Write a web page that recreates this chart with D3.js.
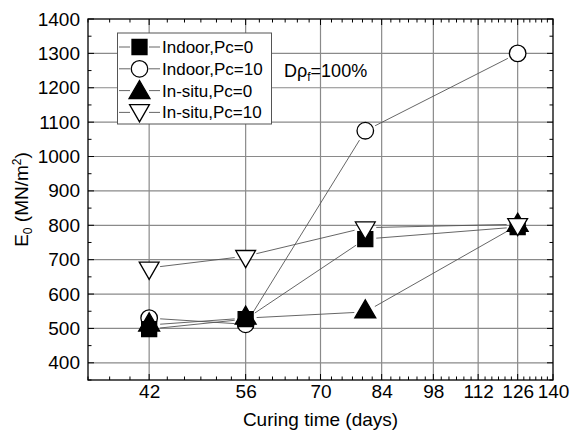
<!DOCTYPE html>
<html>
<head>
<meta charset="utf-8">
<script src="https://cdnjs.cloudflare.com/ajax/libs/d3/7.8.5/d3.min.js"></script>
<style>
  body { margin: 0; background: #fff; }
  text { font-family: "Liberation Sans", Arial, sans-serif; }
</style>
</head>
<body>
<script>
// Curing time vs E0 chart

const w = 571;
const h = 434;

// data
const days = [42, 56, 80, 126];
const indoor0 = [498, 527, 760, 795];
const indoor10 = [530, 512, 1075, 1300];
const insitu0 = [510, 530, 548, 800];
const insitu10 = [676, 710, 793, 803];

const seriesNames = ["Indoor,Pc=0", "Indoor,Pc=10", "In-situ,Pc=0", "In-situ,Pc=10"];
const xTicks = [42, 56, 70, 84, 98, 112, 126, 140];
const yTicks = [400, 500, 600, 700, 800, 900, 1000, 1100, 1200, 1300, 1400];

const plotL = 88, plotR = 553, plotT = 19, plotB = 380;

const x = d3.scaleLog().domain([35, 140]).range([plotL, plotR]);
const y = d3.scaleLinear().domain([350, 1400]).range([plotB, plotT]);

const svg = d3.select("body").append("svg")
    .attr("width", w)
    .attr("height", h);

// marker shapes
const shapes = [
    { type: d3.symbolSquare, size: 225, fill: "#000", rot: 0 },
    { type: d3.symbolCircle, size: 215, fill: "#fff", rot: 0 },
    { type: d3.symbolTriangle, size: 190, fill: "#000", rot: 0 },
    { type: d3.symbolTriangle, size: 170, fill: "#fff", rot: 180 }
];
const allSeries = [indoor0, indoor10, insitu0, insitu10];

// grid lines
svg.append("g").selectAll("line")
    .data(xTicks.slice(0, -1))
    .enter().append("line")
    .attr("x1", d => x(d)).attr("x2", d => x(d))
    .attr("y1", plotT).attr("y2", plotB)
    .attr("stroke", "#8a8a8a").attr("stroke-width", 1.2);

svg.append("g").selectAll("line")
    .data(yTicks.slice(0, -1))
    .enter().append("line")
    .attr("x1", plotL).attr("x2", plotR)
    .attr("y1", d => y(d)).attr("y2", d => y(d))
    .attr("stroke", "#8a8a8a").attr("stroke-width", 1.2);

// minor ticks
const xMinor = d3.range(35, 140.01, 7 / 3);
const yMinor = d3.range(350, 1400.01, 50);

const ticks = svg.append("g").attr("stroke", "#000").attr("stroke-width", 1);
xMinor.forEach(v => {
    const len = xTicks.some(t => Math.abs(t - v) < 0.01) ? 6 : 3.5;
    ticks.append("line").attr("x1", x(v)).attr("x2", x(v)).attr("y1", plotB).attr("y2", plotB - len);
    ticks.append("line").attr("x1", x(v)).attr("x2", x(v)).attr("y1", plotT).attr("y2", plotT + len);
});
yMinor.forEach(v => {
    const len = v % 100 === 0 ? 6 : 3.5;
    ticks.append("line").attr("x1", plotL).attr("x2", plotL + len).attr("y1", y(v)).attr("y2", y(v));
    ticks.append("line").attr("x1", plotR).attr("x2", plotR - len).attr("y1", y(v)).attr("y2", y(v));
});

// axis labels via d3 axes
const bottomAxis = d3.axisBottom(x).tickValues(xTicks).tickFormat(d3.format("d"))
    .tickSizeInner(0).tickSizeOuter(0).tickPadding(5);
const leftAxis = d3.axisLeft(y).tickValues(yTicks).tickFormat(d3.format("d"))
    .tickSizeInner(0).tickSizeOuter(0).tickPadding(8);

const gx = svg.append("g").attr("transform", "translate(0," + plotB + ")").call(bottomAxis);
const gy = svg.append("g").attr("transform", "translate(" + plotL + ",0)").call(leftAxis);
[gx, gy].forEach(g => {
    g.select(".domain").remove();
    g.selectAll("text").attr("font-size", 19).attr("fill", "#000")
        .style("font-family", "'Liberation Sans', Arial, sans-serif");
});

// frame
svg.append("rect")
    .attr("x", plotL).attr("y", plotT)
    .attr("width", plotR - plotL).attr("height", plotB - plotT)
    .attr("fill", "none").attr("stroke", "#000").attr("stroke-width", 1.3);

// connecting lines with gaps at the markers
const gap = 11;
const lines = svg.append("g").attr("stroke", "#555").attr("stroke-width", 0.9);
allSeries.forEach(vals => {
    for (let i = 0; i < vals.length - 1; i++) {
        const x1 = x(days[i]), y1 = y(vals[i]);
        const x2 = x(days[i + 1]), y2 = y(vals[i + 1]);
        const len = Math.hypot(x2 - x1, y2 - y1);
        if (len <= 2 * gap) continue;
        const ux = (x2 - x1) / len, uy = (y2 - y1) / len;
        lines.append("line")
            .attr("x1", x1 + ux * gap).attr("y1", y1 + uy * gap)
            .attr("x2", x2 - ux * gap).attr("y2", y2 - uy * gap);
    }
});

// markers: circles first, then the rest
const drawOrder = [1, 0, 2, 3];
drawOrder.forEach(si => {
    const s = shapes[si];
    svg.append("g").selectAll("path")
        .data(allSeries[si])
        .enter().append("path")
        .attr("d", d3.symbol().type(s.type).size(s.size))
        .attr("transform", (d, i) => "translate(" + x(days[i]) + "," + y(d) + ") rotate(" + s.rot + ")")
        .attr("fill", s.fill)
        .attr("stroke", "#000")
        .attr("stroke-width", 1.3);
});

// legend
const lg = svg.append("g");
lg.append("rect")
    .attr("x", 117.5).attr("y", 33).attr("width", 154).attr("height", 91)
    .attr("fill", "#fff").attr("stroke", "#555").attr("stroke-width", 1);
seriesNames.forEach((name, i) => {
    const s = shapes[i];
    const cy = 47 + i * 21.8;
    lg.append("line").attr("x1", 119).attr("x2", 130).attr("y1", cy).attr("y2", cy)
        .attr("stroke", "#555").attr("stroke-width", 0.9);
    lg.append("line").attr("x1", 149).attr("x2", 160).attr("y1", cy).attr("y2", cy)
        .attr("stroke", "#555").attr("stroke-width", 0.9);
    lg.append("path")
        .attr("d", d3.symbol().type(s.type).size(s.size))
        .attr("transform", "translate(139.5," + (cy + (i === 2 ? 2 : i === 3 ? -2 : 0)) + ") rotate(" + s.rot + ")")
        .attr("fill", s.fill).attr("stroke", "#000").attr("stroke-width", 1.3);
    lg.append("text").attr("x", 162).attr("y", cy + 6)
        .attr("font-size", 17).text(name);
});

// annotation
const ann = svg.append("text").attr("x", 284).attr("y", 77).attr("font-size", 18);
ann.append("tspan").text("D\u03c1");
ann.append("tspan").attr("font-size", 12).attr("dy", 4).text("f");
ann.append("tspan").attr("dy", -4).text("=100%");

// axis titles
svg.append("text")
    .attr("x", (plotL + plotR) / 2).attr("y", 426)
    .attr("text-anchor", "middle").attr("font-size", 19)
    .text("Curing time (days)");

const yt = svg.append("text")
    .attr("transform", "translate(28," + ((plotT + plotB) / 2) + ") rotate(-90)")
    .attr("text-anchor", "middle").attr("font-size", 19);
yt.append("tspan").text("E");
yt.append("tspan").attr("font-size", 12).attr("dy", 4).text("0");
yt.append("tspan").attr("dy", -4).text(" (MN/m");
yt.append("tspan").attr("font-size", 12).attr("dy", -7).text("2");
yt.append("tspan").attr("dy", 7).text(")");
</script>
</body>
</html>
